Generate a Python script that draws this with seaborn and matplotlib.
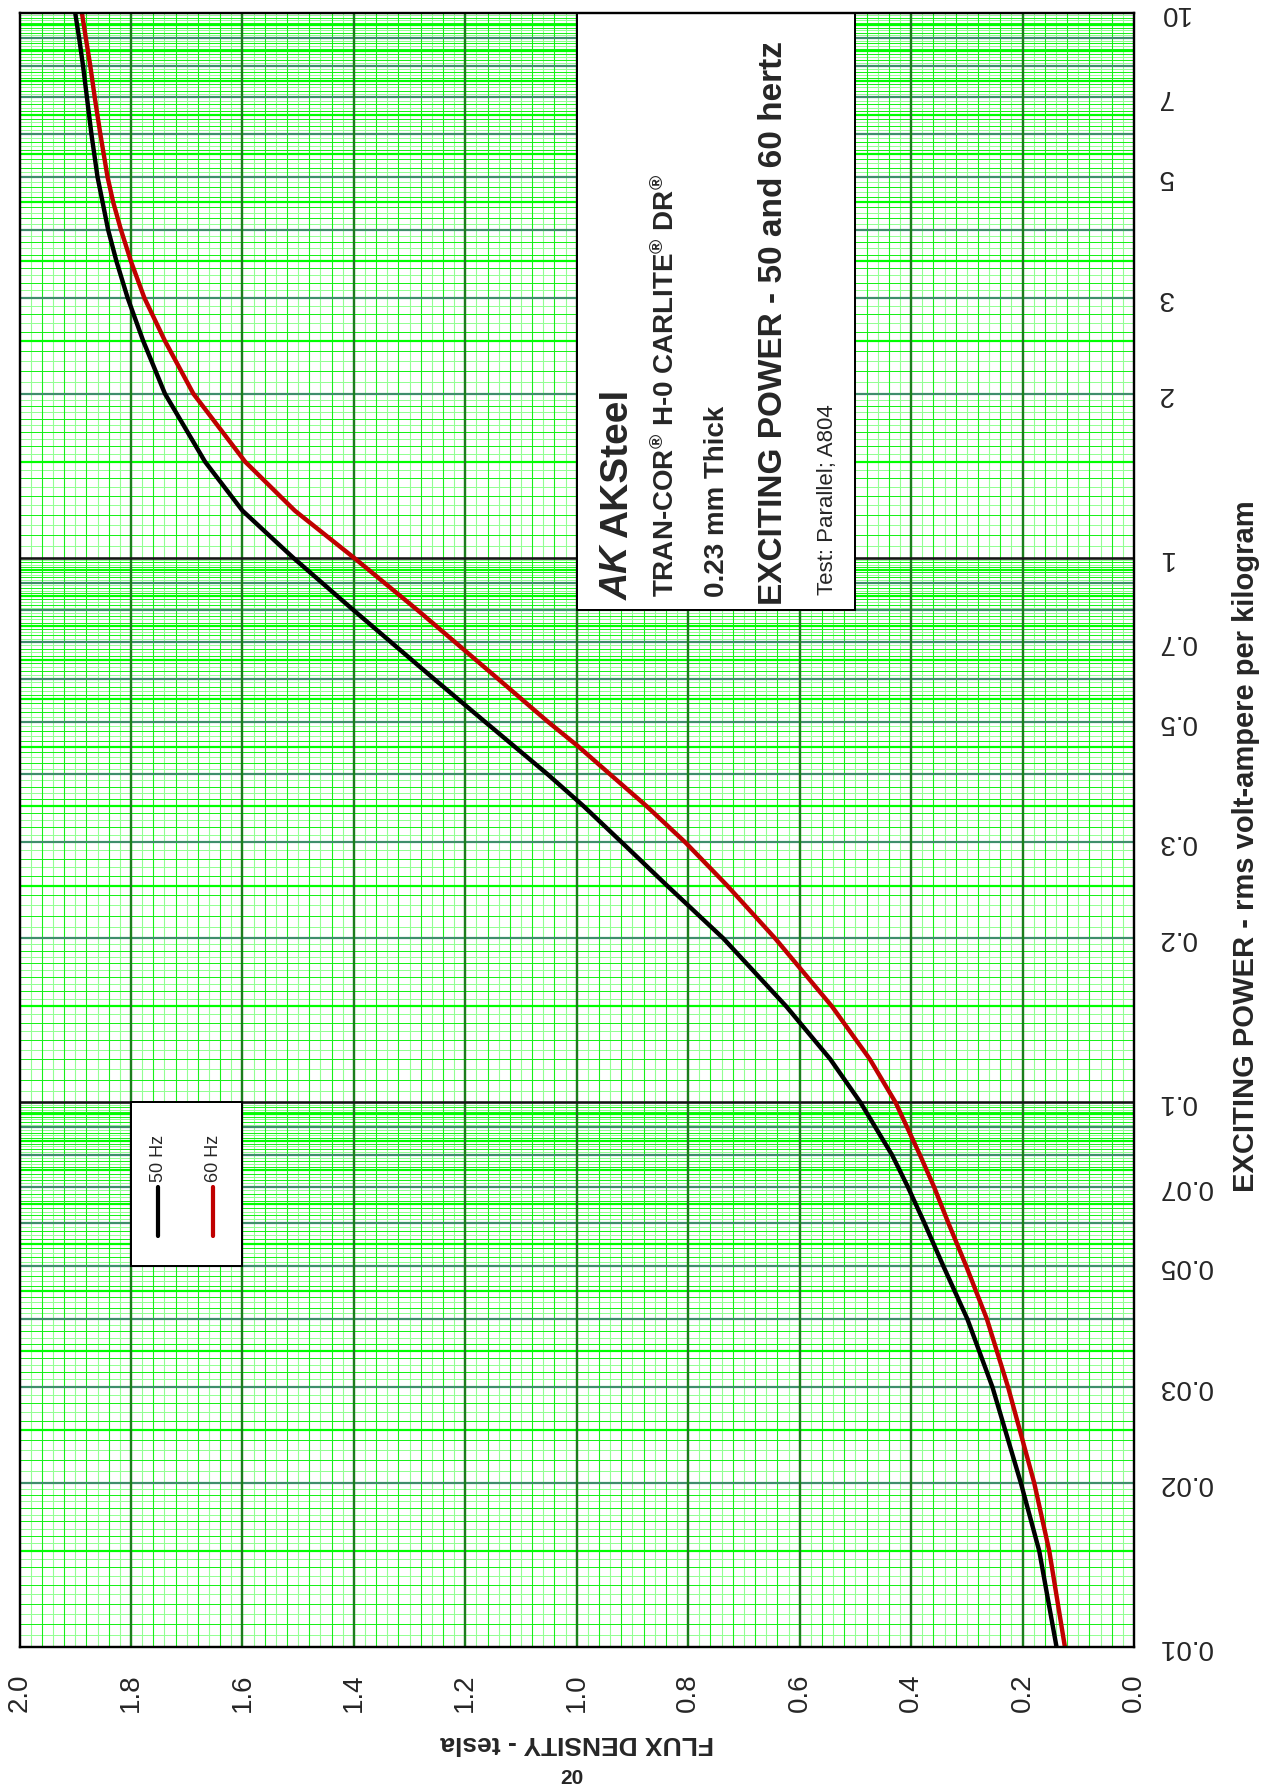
import numpy as np
import pandas as pd
import matplotlib
matplotlib.use("Agg")
import matplotlib.pyplot as plt
from matplotlib.patches import Rectangle
from matplotlib.lines import Line2D
from matplotlib.ticker import NullLocator
import seaborn as sns

# ---- exciting power (VA/kg) vs. flux density (T) ----
power_50 = [0.01, 0.015, 0.02, 0.03, 0.04, 0.05, 0.06, 0.07, 0.08, 0.1, 0.12, 0.15,
            0.2, 0.25, 0.3, 0.35, 0.4, 0.5, 0.6, 0.8, 1.0, 1.22, 1.5, 2, 2.5, 3,
            3.5, 4, 4.5, 5, 6, 7, 8, 9, 10]
flux_50 = [0.139, 0.170, 0.203, 0.254, 0.299, 0.342, 0.376, 0.406, 0.434, 0.491,
           0.545, 0.624, 0.737, 0.838, 0.919, 0.988, 1.052, 1.165, 1.257, 1.400,
           1.509, 1.600, 1.667, 1.739, 1.778, 1.806, 1.826, 1.841, 1.851, 1.860,
           1.871, 1.879, 1.886, 1.893, 1.900]

power_60 = [0.01, 0.015, 0.02, 0.03, 0.04, 0.05, 0.06, 0.07, 0.08, 0.1, 0.12, 0.15,
            0.2, 0.25, 0.3, 0.35, 0.4, 0.45, 0.5, 0.6, 0.8, 1.0, 1.22, 1.5, 2, 2.5,
            3, 3.5, 4, 4.5, 5, 6, 7, 8, 9, 10]
flux_60 = [0.124, 0.152, 0.179, 0.226, 0.264, 0.301, 0.333, 0.359, 0.384, 0.428,
           0.474, 0.542, 0.644, 0.730, 0.805, 0.875, 0.940, 0.997, 1.052, 1.142,
           1.285, 1.400, 1.506, 1.595, 1.688, 1.739, 1.776, 1.800, 1.818, 1.832,
           1.842, 1.855, 1.865, 1.873, 1.881, 1.888]

series_names = ["50 Hz", "60 Hz"]
series_colors = ["#000000", "#c00000"]

flux_ticks = [0.0, 0.2, 0.4, 0.6, 0.8, 1.0, 1.2, 1.4, 1.6, 1.8, 2.0]
flux_tick_labels = ["0.0", "0.2", "0.4", "0.6", "0.8", "1.0", "1.2", "1.4", "1.6",
                    "1.8", "2.0"]
power_ticks = [0.01, 0.02, 0.03, 0.05, 0.07, 0.1, 0.2, 0.3, 0.5, 0.7, 1, 2, 3, 5, 7, 10]
power_tick_labels = ["0.01", "0.02", "0.03", "0.05", "0.07", "0.1", "0.2", "0.3",
                     "0.5", "0.7", "1", "2", "3", "5", "7", "10"]

df = pd.concat([
    pd.DataFrame({"flux": flux_50, "power": power_50, "series": series_names[0]}),
    pd.DataFrame({"flux": flux_60, "power": power_60, "series": series_names[1]}),
], ignore_index=True)

# ---- style ----
sns.set_style("white")
plt.rcParams["font.family"] = ["Liberation Sans", "DejaVu Sans"]
plt.rcParams["mathtext.fontset"] = "custom"
plt.rcParams["mathtext.rm"] = "Liberation Sans:bold"
plt.rcParams["mathtext.it"] = "Liberation Sans:bold:italic"
plt.rcParams["mathtext.bf"] = "Liberation Sans:bold"

W, H = 1277, 1792
PT = 0.72  # points per pixel at 100 dpi


def fx(x):
    return x / W


def fy(y):
    return 1 - y / H


fig = plt.figure(figsize=(W / 100, H / 100), dpi=100)
fig.patch.set_facecolor("white")
ax = fig.add_axes([fx(19.5), fy(1647), (1134 - 19.5) / W, (1647 - 13) / H])

# ---- curves (page is turned: flux runs right-to-left, power bottom-to-top) ----
sns.lineplot(data=df, x="flux", y="power", hue="series",
             palette=dict(zip(series_names, series_colors)),
             estimator=None, sort=False, legend=False,
             linewidth=4.4 * PT, ax=ax, zorder=4)
for ln in ax.lines:
    ln.set_solid_joinstyle("round")
    ln.set_solid_capstyle("butt")
ax.set_yscale("log")
ax.set_xlim(2.0, 0.0)
ax.set_ylim(0.01, 10)
ax.set_xlabel("")
ax.set_ylabel("")

# ---- graph-paper grid ----
SAT = "#19f019"
PALE = "#93ff93"
HALF = "#00ff00"
TEAL = "#3f8d6c"
VMAJ = "#1c7c1c"
DEC = "#151515"

k = np.arange(1, 100)
kv = k[k % 10 != 0]
ax.vlines(kv[kv % 2 == 0] * 0.02, 0.01, 10, color=SAT, lw=1.1 * PT, zorder=1.1)
ax.vlines(kv[kv % 2 == 1] * 0.02, 0.01, 10, color=PALE, lw=1.1 * PT, zorder=1.0)
ax.vlines(np.arange(1, 10) * 0.2, 0.01, 10, color=VMAJ, lw=2.4 * PT, zorder=1.5)

for d in [0.01, 0.1, 1.0]:
    ka = np.arange(21, 40)
    ka = ka[ka != 30]
    ax.hlines(d * ka[ka % 2 == 0] * 0.05, 0, 2, color=SAT, lw=1.0 * PT, zorder=1.1)
    ax.hlines(d * ka[ka % 2 == 1] * 0.05, 0, 2, color=PALE, lw=1.0 * PT, zorder=1.0)
    kb = np.arange(21, 100)
    kb = kb[(kb % 10 != 0) & (kb % 10 != 5)]
    ax.hlines(d * kb[kb % 2 == 0] * 0.1, 0, 2, color=SAT, lw=1.0 * PT, zorder=1.1)
    ax.hlines(d * kb[kb % 2 == 1] * 0.1, 0, 2, color=PALE, lw=1.0 * PT, zorder=1.0)
    ax.hlines(d * (np.arange(1, 10) + 0.5), 0, 2, color=HALF, lw=2.2 * PT, zorder=1.3)
    ax.hlines(d * np.arange(2, 10), 0, 2, color=TEAL, lw=2.2 * PT, zorder=1.4)
ax.hlines([0.1, 1.0], 0, 2, color=DEC, lw=2.6 * PT, zorder=1.6)

for s in ax.spines.values():
    s.set_visible(True)
    s.set_color("black")
    s.set_linewidth(2.4 * PT)
    s.set_zorder(6)

# ---- ticks ----
ax.set_xticks(flux_ticks)
ax.set_xticklabels(flux_tick_labels, rotation=90)
ax.tick_params(axis="x", length=0, pad=19, labelsize=20)
ax.yaxis.tick_right()
ax.yaxis.set_minor_locator(NullLocator())
ax.set_yticks(power_ticks)
ax.set_yticklabels(power_tick_labels, rotation=180)
ax.tick_params(axis="y", which="both", length=0, pad=17, labelsize=20,
               left=False, right=False)
for lab in ax.get_yticklabels():
    lab.set_verticalalignment("center")

# ---- axis titles ----
fig.text(fx(1246), fy(846), "EXCITING POWER - rms volt-ampere per kilogram",
         rotation=90, ha="center", va="center", fontsize=21, fontweight="bold")
fig.text(fx(577), fy(1743), "FLUX DENSITY - tesla", rotation=180,
         ha="center", va="center", fontsize=19, fontweight="bold")
fig.text(fx(572), fy(1778), "20", ha="center", va="center", fontsize=15,
         fontweight="bold")

# ---- title block ----
ax.add_patch(Rectangle((0.5, 0.8), 0.5, 9.2, facecolor="white", edgecolor="black",
                       lw=2.0 * PT, zorder=5))


def side_text(x, y, s, size, weight="bold", style="normal"):
    fig.text(fx(x), fy(y), s, rotation=90, rotation_mode="anchor", ha="left",
             va="center", fontsize=size, fontweight=weight, fontstyle=style)


side_text(618, 600, "AK", 27, weight="heavy", style="italic")
side_text(617, 538, "AKSteel", 28, weight="heavy")
side_text(666, 597, "TRAN-COR$^{\\mathrm{®}}$ H-0 CARLITE$^{\\mathrm{®}}$ DR$^{\\mathrm{®}}$", 20)
side_text(717, 597, "0.23 mm Thick", 20)
side_text(773, 605, "EXCITING POWER - 50 and 60 hertz", 24)
side_text(827, 595, "Test: Parallel; A804", 16, weight="normal")

# ---- legend block ----
ax.add_patch(Rectangle((1.6, 0.05), 0.2, 0.05, facecolor="white", edgecolor="black",
                       lw=2.0 * PT, zorder=5))
for lx, name, col in zip([158.3, 213.3], series_names, series_colors):
    fig.add_artist(Line2D([fx(lx), fx(lx)], [fy(1187), fy(1236)], color=col,
                          lw=4.2 * PT, solid_capstyle="round",
                          transform=fig.transFigure))
    fig.text(fx(lx), fy(1182), name, rotation=90, rotation_mode="anchor",
             ha="left", va="center", fontsize=13)

fig.savefig("out.png", dpi=100)
